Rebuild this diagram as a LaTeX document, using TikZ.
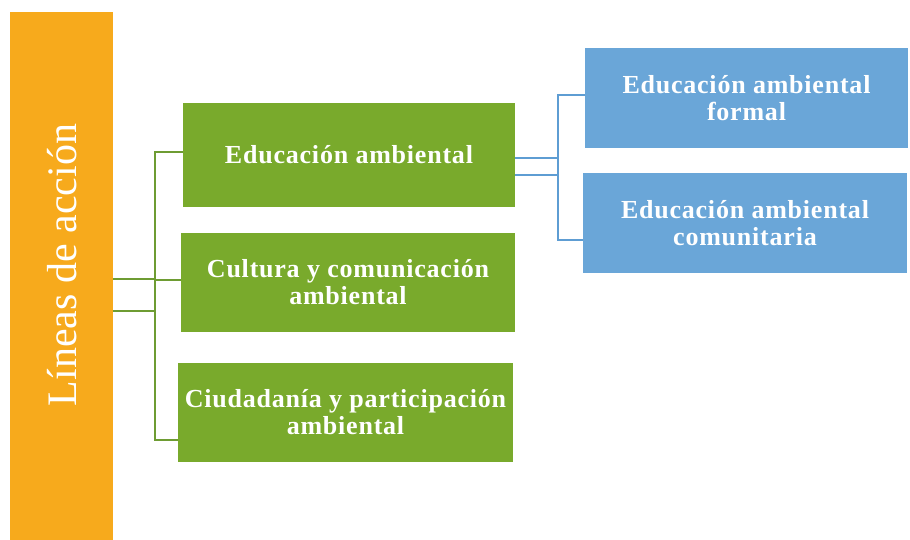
\documentclass[tikz,border=0pt]{standalone}
\usepackage{fontspec}
\setmainfont{Liberation Serif}
\definecolor{orangebar}{HTML}{F7AA1C}
\definecolor{greenbox}{HTML}{79AA2C}
\definecolor{bluebox}{HTML}{6AA6D8}
\definecolor{greenline}{HTML}{6E9C33}
\definecolor{blueline}{HTML}{5E9DD3}
\tikzset{
  boxtext/.style={text=white,font=\bfseries\fontsize{26}{27}\selectfont\addfontfeatures{LetterSpace=3},align=center,inner sep=0pt},
  greenbox/.style={boxtext,fill=greenbox},
  bluebox/.style={boxtext,fill=bluebox},
  gline/.style={draw=greenline,line width=2pt},
  bline/.style={draw=blueline,line width=2pt},
}
\begin{document}
\begin{tikzpicture}[x=1pt,y=-1pt]
\useasboundingbox (0,0) rectangle (910,540);
\node[fill=orangebar,minimum width=103pt,minimum height=528pt,inner sep=0pt] (bar) at (61.5,276) {};
\node[text=white,rotate=90,font=\fontsize{42}{48}\selectfont,inner sep=0pt] (bartext) at (62,265) {Líneas de acción};
\node[greenbox,minimum width=332pt,minimum height=104pt] (g1) at (349,155) {Educación ambiental};
\node[greenbox,minimum width=334pt,minimum height=99pt] (g2) at (348,282.5) {Cultura y comunicación\\ambiental};
\node[greenbox,minimum width=335pt,minimum height=99pt] (g3) at (345.5,412.5) {Ciudadanía y participación\\ambiental};
\node[bluebox,minimum width=323pt,minimum height=100pt] (b1) at (746.5,98) {Educación ambiental\\formal};
\node[bluebox,minimum width=324pt,minimum height=100pt] (b2) at (745,223) {Educación ambiental\\comunitaria};
% green bracket
\coordinate (gv1) at (155,152);
\coordinate (gv3) at (155,440);
\draw[gline] (g1.west |- gv1) -- (gv1) -- (gv3) -- (g3.west |- gv3);
\draw[gline] (155,280) -- (g2.west |- 0,280);
\draw[gline] (bar.east |- 0,279) -- (155,279);
\draw[gline] (bar.east |- 0,311) -- (155,311);
% blue bracket
\coordinate (bv1) at (558,95);
\coordinate (bv2) at (558,240);
\draw[bline] (b1.west |- bv1) -- (bv1) -- (bv2) -- (b2.west |- bv2);
\draw[bline] (g1.east |- 0,158) -- (558,158);
\draw[bline] (g1.east |- 0,175) -- (558,175);
\end{tikzpicture}
\end{document}
